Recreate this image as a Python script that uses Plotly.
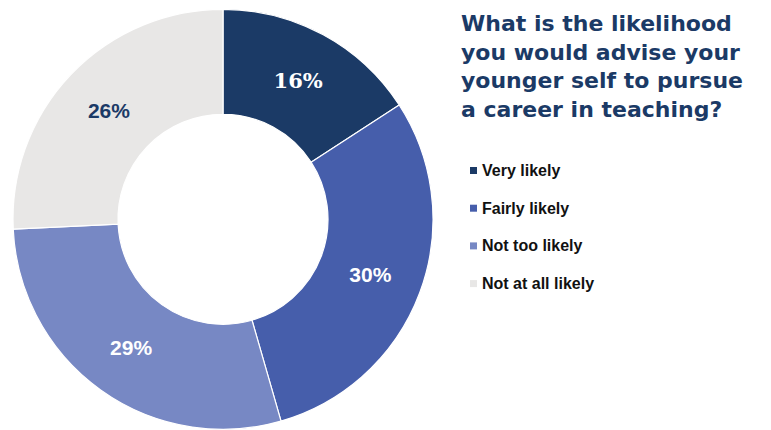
import plotly.graph_objects as go

# Survey answers and their shares (percent)
categories = ["Very likely", "Fairly likely", "Not too likely", "Not at all likely"]
shares = [16, 30, 29, 26]
slice_colors = ["#1b3a66", "#465eab", "#7788c4", "#e8e7e6"]
label_colors = ["#ffffff", "#ffffff", "#ffffff", "#1b3a66"]
title_lines = [
    "What is the likelihood",
    "you would advise your",
    "younger self to pursue",
    "a career in teaching?",
]

W, H = 771, 430


def px_x(x):
    return x / W


def px_y(y):
    return (H - y) / H


fig = go.Figure(
    go.Pie(
        labels=categories,
        values=shares,
        hole=0.5,
        sort=False,
        direction="clockwise",
        rotation=0,
        marker=dict(colors=slice_colors, line=dict(color="#ffffff", width=1.2)),
        texttemplate="%{value}%",
        textposition="inside",
        insidetextorientation="horizontal",
        textfont=dict(
            family=["DejaVu Serif", "Liberation Sans", "Liberation Sans", "Liberation Sans"],
            size=21,
            color=label_colors,
            weight="bold",
        ),
        domain=dict(x=[px_x(13), px_x(433)], y=[0.0, 0.98]),
        showlegend=False,
        hoverinfo="label+percent",
    )
)

annotations = [
    # Title block in the upper right
    dict(
        text="<br>".join(title_lines),
        x=px_x(459),
        y=px_y(9),
        xref="paper",
        yref="paper",
        xanchor="left",
        yanchor="top",
        align="left",
        showarrow=False,
        font=dict(family="DejaVu Sans", size=22, color="#1b3a66", weight="bold"),
    )
]

# Legend: colour squares with labels
shapes = []
for i, (cat, col) in enumerate(zip(categories, slice_colors)):
    cy = 170.5 + 37.7 * i
    shapes.append(
        dict(
            type="rect",
            xref="paper",
            yref="paper",
            x0=px_x(470),
            x1=px_x(477),
            y0=px_y(cy + 3.5),
            y1=px_y(cy - 3.5),
            fillcolor=col,
            line=dict(width=0),
        )
    )
    annotations.append(
        dict(
            text=cat,
            x=px_x(480),
            y=px_y(cy),
            xref="paper",
            yref="paper",
            xanchor="left",
            yanchor="middle",
            showarrow=False,
            font=dict(family="Liberation Sans", size=16, color="#111111", weight="bold"),
        )
    )

fig.update_layout(
    width=W,
    height=H,
    margin=dict(l=0, r=0, t=0, b=0),
    paper_bgcolor="#ffffff",
    plot_bgcolor="#ffffff",
    annotations=annotations,
    shapes=shapes,
)

fig.write_html("out.html")
